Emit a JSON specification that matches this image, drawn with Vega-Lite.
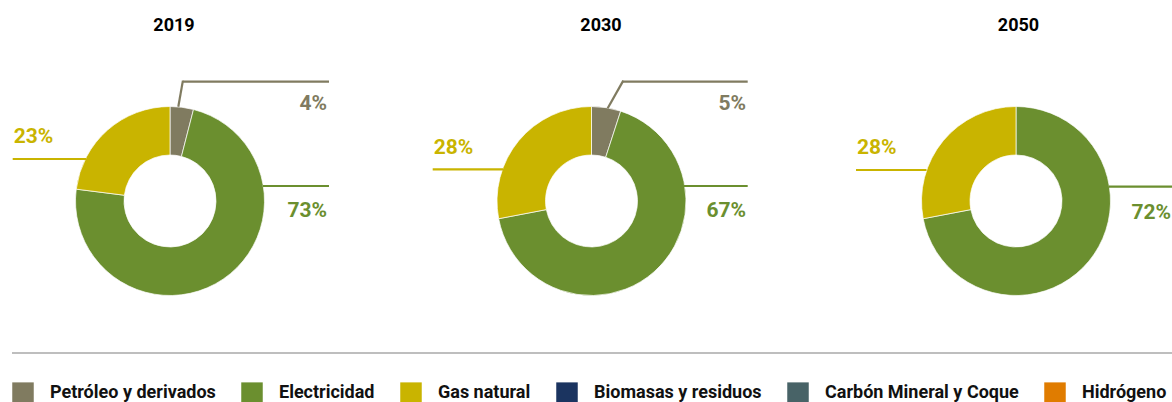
{
  "$schema": "https://vega.github.io/schema/vega-lite/v6.json",
  "padding": {"left": 11, "top": 17, "right": 0, "bottom": 0},
  "background": "#ffffff",
  "datasets": {
    "participacion": [
      {"anio": "2019", "fuente": "Petróleo y derivados", "pct": 4, "orden": 1},
      {"anio": "2019", "fuente": "Electricidad", "pct": 73, "orden": 2},
      {"anio": "2019", "fuente": "Gas natural", "pct": 23, "orden": 3},
      {"anio": "2030", "fuente": "Petróleo y derivados", "pct": 5, "orden": 1},
      {"anio": "2030", "fuente": "Electricidad", "pct": 67, "orden": 2},
      {"anio": "2030", "fuente": "Gas natural", "pct": 28, "orden": 3},
      {"anio": "2050", "fuente": "Electricidad", "pct": 72, "orden": 2},
      {"anio": "2050", "fuente": "Gas natural", "pct": 28, "orden": 3}
    ],
    "guias": [
      {"anio": "2019", "fuente": "Petróleo y derivados", "x": 8.3, "y": 94.3, "x2": 12.9, "y2": 120.4},
      {"anio": "2019", "fuente": "Petróleo y derivados", "x": 12.7, "y": 119.3, "x2": 159, "y2": 119.3},
      {"anio": "2019", "fuente": "Electricidad", "x": 93, "y": 15, "x2": 159, "y2": 15},
      {"anio": "2019", "fuente": "Gas natural", "x": -157.3, "y": 42, "x2": -84, "y2": 42},
      {"anio": "2030", "fuente": "Petróleo y derivados", "x": 16.2, "y": 92.7, "x2": 31.8, "y2": 120.4},
      {"anio": "2030", "fuente": "Petróleo y derivados", "x": 31.2, "y": 119.3, "x2": 156.2, "y2": 119.3},
      {"anio": "2030", "fuente": "Electricidad", "x": 92.5, "y": 15, "x2": 156.2, "y2": 15},
      {"anio": "2030", "fuente": "Gas natural", "x": -158.8, "y": 31.7, "x2": -88.5, "y2": 31.7},
      {"anio": "2050", "fuente": "Electricidad", "x": 93, "y": 14.3, "x2": 156, "y2": 14.3},
      {"anio": "2050", "fuente": "Gas natural", "x": -160, "y": 31, "x2": -89.5, "y2": 31}
    ],
    "etiquetas": [
      {"anio": "2019", "fuente": "Petróleo y derivados", "texto": "4%", "x": 157, "y": 97},
      {"anio": "2019", "fuente": "Electricidad", "texto": "73%", "x": 157, "y": -10},
      {"anio": "2019", "fuente": "Gas natural", "texto": "23%", "x": -156.3, "y": 64.5},
      {"anio": "2030", "fuente": "Petróleo y derivados", "texto": "5%", "x": 154.5, "y": 97},
      {"anio": "2030", "fuente": "Electricidad", "texto": "67%", "x": 154.5, "y": -10},
      {"anio": "2030", "fuente": "Gas natural", "texto": "28%", "x": -157.8, "y": 53},
      {"anio": "2050", "fuente": "Electricidad", "texto": "72%", "x": 155, "y": -12},
      {"anio": "2050", "fuente": "Gas natural", "texto": "28%", "x": -159, "y": 53}
    ]
  },
  "vconcat": [
    {
      "hconcat": [
        {
          "width": 318, "height": 280,
          "title": {"text": "2019", "dx": 3},
          "layer": [
            {
              "data": {"name": "participacion"},
              "transform": [{"filter": "datum.anio == '2019'"}],
              "mark": {"type": "arc", "innerRadius": 46, "outerRadius": 94.5, "stroke": "#ffffff", "strokeWidth": 0.7},
              "encoding": {
                "x": {"datum": 0, "type": "quantitative", "scale": {"domain": [-158, 160], "nice": false, "zero": false}, "axis": null},
                "y": {"datum": 0, "type": "quantitative", "scale": {"domain": [-139, 141], "nice": false, "zero": false}, "axis": null},
                "theta": {"field": "pct", "type": "quantitative", "stack": true},
                "order": {"field": "orden", "type": "quantitative"},
                "color": {"field": "fuente", "type": "nominal", "title": null,
                  "scale": {"domain": ["Petróleo y derivados", "Electricidad", "Gas natural", "Biomasas y residuos", "Carbón Mineral y Coque", "Hidrógeno"],
                            "range": ["#807b60", "#6b8f2f", "#c9b400", "#1b3460", "#486367", "#e07c00"]}}
              }
            },
            {
              "data": {"name": "guias"},
              "transform": [{"filter": "datum.anio == '2019'"}],
              "mark": {"type": "rule", "strokeWidth": 2.2},
              "encoding": {
                "x": {"field": "x", "type": "quantitative"},
                "y": {"field": "y", "type": "quantitative"},
                "x2": {"field": "x2"},
                "y2": {"field": "y2"},
                "stroke": {"field": "fuente", "type": "nominal", "legend": null,
                  "scale": {"domain": ["Petróleo y derivados", "Electricidad", "Gas natural"], "range": ["#807b60", "#6b8f2f", "#c9b400"]}}
              }
            },
            {
              "data": {"name": "etiquetas"},
              "transform": [{"filter": "datum.anio == '2019' && datum.x > 0"}],
              "mark": {"type": "text", "align": "right", "baseline": "middle", "font": "Roboto", "fontSize": 21, "fontWeight": "bold"},
              "encoding": {
                "x": {"field": "x", "type": "quantitative"},
                "y": {"field": "y", "type": "quantitative"},
                "text": {"field": "texto"},
                "fill": {"field": "fuente", "type": "nominal", "legend": null,
                  "scale": {"domain": ["Petróleo y derivados", "Electricidad", "Gas natural"], "range": ["#807b60", "#6b8f2f", "#c9b400"]}}
              }
            },
            {
              "data": {"name": "etiquetas"},
              "transform": [{"filter": "datum.anio == '2019' && datum.x < 0"}],
              "mark": {"type": "text", "align": "left", "baseline": "middle", "font": "Roboto", "fontSize": 21, "fontWeight": "bold"},
              "encoding": {
                "x": {"field": "x", "type": "quantitative"},
                "y": {"field": "y", "type": "quantitative"},
                "text": {"field": "texto"},
                "fill": {"field": "fuente", "type": "nominal", "legend": null}
              }
            }
          ]
        },
        {
          "width": 318, "height": 280,
          "title": {"text": "2030", "dx": 7},
          "layer": [
            {
              "data": {"name": "participacion"},
              "transform": [{"filter": "datum.anio == '2030'"}],
              "mark": {"type": "arc", "innerRadius": 46, "outerRadius": 94.5, "stroke": "#ffffff", "strokeWidth": 0.7},
              "encoding": {
                "x": {"datum": 0, "type": "quantitative", "scale": {"domain": [-156.5, 161.5], "nice": false, "zero": false}, "axis": null},
                "y": {"datum": 0, "type": "quantitative", "scale": {"domain": [-139, 141], "nice": false, "zero": false}, "axis": null},
                "theta": {"field": "pct", "type": "quantitative", "stack": true},
                "order": {"field": "orden", "type": "quantitative"},
                "color": {"field": "fuente", "type": "nominal", "title": null}
              }
            },
            {
              "data": {"name": "guias"},
              "transform": [{"filter": "datum.anio == '2030'"}],
              "mark": {"type": "rule", "strokeWidth": 2.2},
              "encoding": {
                "x": {"field": "x", "type": "quantitative"},
                "y": {"field": "y", "type": "quantitative"},
                "x2": {"field": "x2"},
                "y2": {"field": "y2"},
                "stroke": {"field": "fuente", "type": "nominal", "legend": null}
              }
            },
            {
              "data": {"name": "etiquetas"},
              "transform": [{"filter": "datum.anio == '2030' && datum.x > 0"}],
              "mark": {"type": "text", "align": "right", "baseline": "middle", "font": "Roboto", "fontSize": 21, "fontWeight": "bold"},
              "encoding": {
                "x": {"field": "x", "type": "quantitative"},
                "y": {"field": "y", "type": "quantitative"},
                "text": {"field": "texto"},
                "fill": {"field": "fuente", "type": "nominal", "legend": null}
              }
            },
            {
              "data": {"name": "etiquetas"},
              "transform": [{"filter": "datum.anio == '2030' && datum.x < 0"}],
              "mark": {"type": "text", "align": "left", "baseline": "middle", "font": "Roboto", "fontSize": 21, "fontWeight": "bold"},
              "encoding": {
                "x": {"field": "x", "type": "quantitative"},
                "y": {"field": "y", "type": "quantitative"},
                "text": {"field": "texto"},
                "fill": {"field": "fuente", "type": "nominal", "legend": null}
              }
            }
          ]
        },
        {
          "width": 315, "height": 280,
          "title": {"text": "2050", "dx": 3},
          "layer": [
            {
              "data": {"name": "participacion"},
              "transform": [{"filter": "datum.anio == '2050'"}],
              "mark": {"type": "arc", "innerRadius": 46, "outerRadius": 94.5, "stroke": "#ffffff", "strokeWidth": 0.7},
              "encoding": {
                "x": {"datum": 0, "type": "quantitative", "scale": {"domain": [-158, 157], "nice": false, "zero": false}, "axis": null},
                "y": {"datum": 0, "type": "quantitative", "scale": {"domain": [-139, 141], "nice": false, "zero": false}, "axis": null},
                "theta": {"field": "pct", "type": "quantitative", "stack": true},
                "order": {"field": "orden", "type": "quantitative"},
                "color": {"field": "fuente", "type": "nominal", "title": null}
              }
            },
            {
              "data": {"name": "guias"},
              "transform": [{"filter": "datum.anio == '2050'"}],
              "mark": {"type": "rule", "strokeWidth": 2.2},
              "encoding": {
                "x": {"field": "x", "type": "quantitative"},
                "y": {"field": "y", "type": "quantitative"},
                "x2": {"field": "x2"},
                "y2": {"field": "y2"},
                "stroke": {"field": "fuente", "type": "nominal", "legend": null}
              }
            },
            {
              "data": {"name": "etiquetas"},
              "transform": [{"filter": "datum.anio == '2050' && datum.x > 0"}],
              "mark": {"type": "text", "align": "right", "baseline": "middle", "font": "Roboto", "fontSize": 21, "fontWeight": "bold"},
              "encoding": {
                "x": {"field": "x", "type": "quantitative"},
                "y": {"field": "y", "type": "quantitative"},
                "text": {"field": "texto"},
                "fill": {"field": "fuente", "type": "nominal", "legend": null}
              }
            },
            {
              "data": {"name": "etiquetas"},
              "transform": [{"filter": "datum.anio == '2050' && datum.x < 0"}],
              "mark": {"type": "text", "align": "left", "baseline": "middle", "font": "Roboto", "fontSize": 21, "fontWeight": "bold"},
              "encoding": {
                "x": {"field": "x", "type": "quantitative"},
                "y": {"field": "y", "type": "quantitative"},
                "text": {"field": "texto"},
                "fill": {"field": "fuente", "type": "nominal", "legend": null}
              }
            }
          ]
        }
      ],
      "spacing": 105,
      "bounds": "flush",
      "resolve": {"scale": {"x": "independent", "y": "independent", "color": "shared", "fill": "shared", "stroke": "shared"}}
    },
    {
      "width": 1161, "height": 1,
      "data": {"values": [{"elemento": "separador"}]},
      "mark": {"type": "rule", "color": "#a8a8a8", "strokeWidth": 1.5},
      "encoding": {
        "y": {"datum": 1, "type": "quantitative", "scale": {"domain": [0, 1]}, "axis": null}
      }
    }
  ],
  "spacing": 12,
  "resolve": {"scale": {"color": "shared"}, "legend": {"color": "shared"}},
  "config": {
    "view": {"stroke": null},
    "title": {"font": "Roboto", "fontSize": 18, "fontWeight": "bold", "color": "#000000", "baseline": "alphabetic", "offset": 25, "anchor": "middle"},
    "legend": {
      "orient": "bottom", "direction": "horizontal", "offset": 28, "padding": 0,
      "symbolType": "square", "symbolSize": 462, "symbolStrokeWidth": 0, "symbolOpacity": 1,
      "labelFont": "Roboto", "labelFontSize": 18, "labelFontWeight": "bold", "labelColor": "#111111",
      "labelOffset": 16, "columnPadding": 25, "labelLimit": 400
    }
  }
}
